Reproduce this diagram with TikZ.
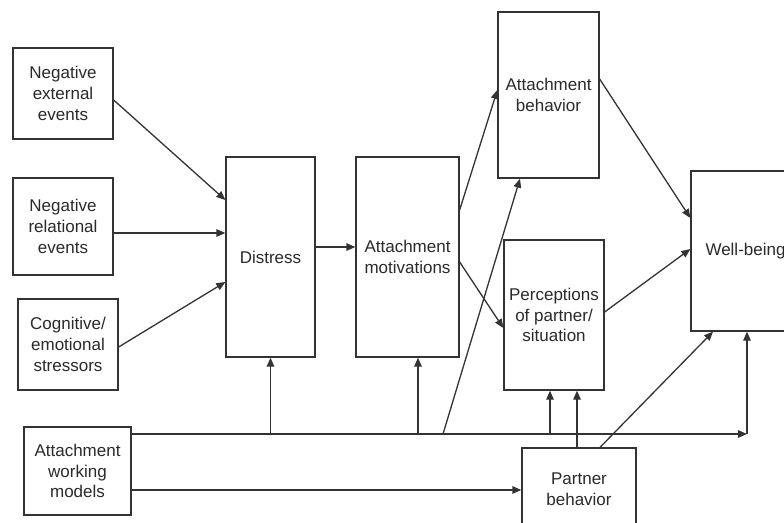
\documentclass[tikz,border=0pt]{standalone}
\usepackage{xcolor}
\usepackage{fontspec}
\setmainfont{Liberation Sans}
\usepackage{tikz}
\usetikzlibrary{shapes,arrows.meta,positioning,calc}
\definecolor{modelline}{HTML}{333333}
\definecolor{modeltext}{HTML}{2A2A2A}
\tikzstyle{box} = [rectangle, draw=modelline, line width=1.3pt, fill=white,
    align=center, inner sep=2pt, text=modeltext, font=\fontsize{17}{20.7}\selectfont]
\tikzstyle{arrow} = [-{Triangle[length=9pt,width=7.5pt]}, line width=1.3pt, modelline]

\begin{document}
\begin{tikzpicture}[x=1pt, y=-1pt]
\clip (0,0) rectangle (784,522);
\node[box, minimum width=100pt, minimum height=91pt] (negext) at (63,93.5) {Negative\\external\\events};
\node[box, minimum width=100pt, minimum height=97pt] (negrel) at (63,226.5) {Negative\\relational\\events};
\node[box, minimum width=100pt, minimum height=91pt] (cogn) at (68,344.5) {Cognitive/\\emotional\\stressors};
\node[box, minimum width=107pt, minimum height=88pt] (awm) at (77.5,471) {Attachment\\working\\models};
\node[box, minimum width=89pt, minimum height=200pt] (distress) at (270.5,257) {Distress};
\node[box, minimum width=103pt, minimum height=200pt] (attmot) at (407.5,257) {Attachment\\motivations};
\node[box, minimum width=101pt, minimum height=166pt] (attbeh) at (548.5,95) {Attachment\\behavior};
\node[box, minimum width=100pt, minimum height=150pt] (percep) at (554,315) {Perceptions\\of partner/\\situation};
\node[box, minimum width=109pt, minimum height=160pt] (wellbeing) at (745.5,251) {Well-being};
\node[box, minimum width=114pt, minimum height=82pt] (partner) at (579,489) {Partner\\behavior};
\coordinate (corner) at (747,434);
\coordinate (tap) at (443,434);

\draw[arrow] ([yshift=-6.5]negext.east) -- ([yshift=57]distress.west);
\draw[arrow] ([yshift=-6.5]negrel.east) -- ([yshift=24]distress.west);
\draw[arrow] ([yshift=-2.5]cogn.east) -- ([yshift=-25]distress.west);
\draw[arrow] ([yshift=10]distress.east) -- ([yshift=10]attmot.west);
\draw[arrow] ([yshift=47]attmot.east) -- ([yshift=5]attbeh.west);
\draw[arrow] ([yshift=-5]attmot.east) -- ([yshift=-13]percep.west);
\draw[arrow] ([yshift=16]attbeh.east) -- ([yshift=33]wellbeing.west);
\draw[arrow] ([yshift=3]percep.east) -- ([yshift=2]wellbeing.west);
\draw[arrow] ([yshift=37]awm.east) -- (corner);
\draw[arrow] (corner) -- (corner |- wellbeing.south);
\draw[arrow] ([yshift=-19]awm.east) -- ([yshift=-19]awm.east -| partner.west);
\draw[arrow] (distress.south |- corner) -- (distress.south);
\draw[arrow] ([xshift=10.5]attmot.south |- corner) -- ([xshift=10.5]attmot.south);
\draw[arrow] (tap) -- ([xshift=-28.5]attbeh.south);
\draw[arrow] ([xshift=-4]percep.south |- corner) -- ([xshift=-4]percep.south);
\draw[arrow] ([xshift=-2]partner.north) -- ([xshift=23]percep.south);
\draw[arrow] ([xshift=21]partner.north) -- ([xshift=-32.5]wellbeing.south);
\end{tikzpicture}
\end{document}
